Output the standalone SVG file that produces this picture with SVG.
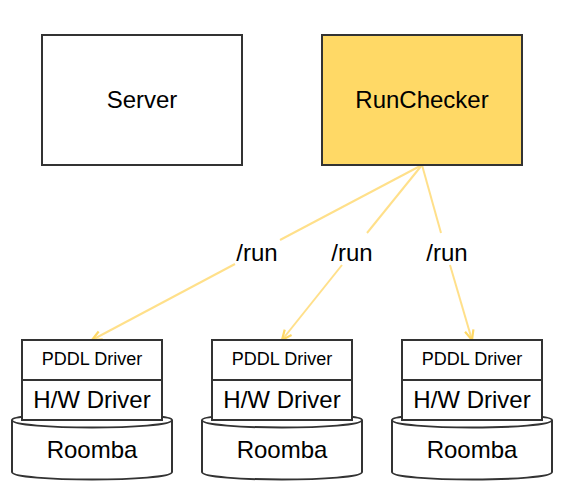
<svg xmlns="http://www.w3.org/2000/svg" width="572" height="499" viewBox="0 0 572 499">
<style>
.box{fill:#fff;stroke:#333;stroke-width:2}
.t{font-family:"Liberation Sans",Arial,sans-serif;text-anchor:middle;fill:#000;font-size:24px}
.s{font-size:18px}
.c{fill:none;stroke:#FFE08A;stroke-width:2;marker-end:url(#a)}
.n{fill:none;stroke:#FFE08A;stroke-width:2}
</style>
<defs><marker id="a" markerUnits="userSpaceOnUse" markerWidth="12" markerHeight="12" refX="10" refY="5" orient="auto" viewBox="0 0 11 10"><path d="M1 1L10 5L1 9" fill="none" stroke="#FFD966" stroke-width="2"/></marker>
<g id="drum"><path class="box" d="M-80 9C-80 1 80 1 80 9V61C80 71-80 71-80 61Z"/><path d="M-80 9C-80 19 80 19 80 9" fill="none" stroke="#333" stroke-width="2"/></g></defs>
<rect width="572" height="499" fill="#fff"/>
<g id="connectors">
<path class="n" d="M422 165L280 240"/><path class="c" d="M235 264L92 340"/>
<path class="n" d="M422 165L367 233"/><path class="c" d="M342 265L282 340"/>
<path class="n" d="M422 165L441 233"/><path class="c" d="M450 265L472 340"/>
</g>
<g id="server"><rect class="box" x="42" y="35" width="200" height="130"/><text class="t" x="142" y="108">Server</text></g>
<g id="runchecker"><rect class="box" x="322" y="35" width="200" height="130" style="fill:#FFD966"/><text class="t" x="422" y="108">RunChecker</text></g>
<g id="l1"><text class="t" x="257" y="261">/run</text></g>
<g id="l2"><text class="t" x="352" y="261">/run</text></g>
<g id="l3"><text class="t" x="447" y="261">/run</text></g>
<g id="roomba1"><use href="#drum" x="92" y="411"/><text class="t" x="92" y="458">Roomba</text></g>
<g id="hw1"><rect class="box" x="22" y="380" width="140" height="40"/><text class="t" x="92" y="408">H/W Driver</text></g>
<g id="pddl1"><rect class="box" x="22" y="340" width="140" height="40"/><text class="t s" x="92" y="365">PDDL Driver</text></g>
<g id="roomba2"><use href="#drum" x="282" y="411"/><text class="t" x="282" y="458">Roomba</text></g>
<g id="hw2"><rect class="box" x="212" y="380" width="140" height="40"/><text class="t" x="282" y="408">H/W Driver</text></g>
<g id="pddl2"><rect class="box" x="212" y="340" width="140" height="40"/><text class="t s" x="282" y="365">PDDL Driver</text></g>
<g id="roomba3"><use href="#drum" x="472" y="411"/><text class="t" x="472" y="458">Roomba</text></g>
<g id="hw3"><rect class="box" x="402" y="380" width="140" height="40"/><text class="t" x="472" y="408">H/W Driver</text></g>
<g id="pddl3"><rect class="box" x="402" y="340" width="140" height="40"/><text class="t s" x="472" y="365">PDDL Driver</text></g>
</svg>
